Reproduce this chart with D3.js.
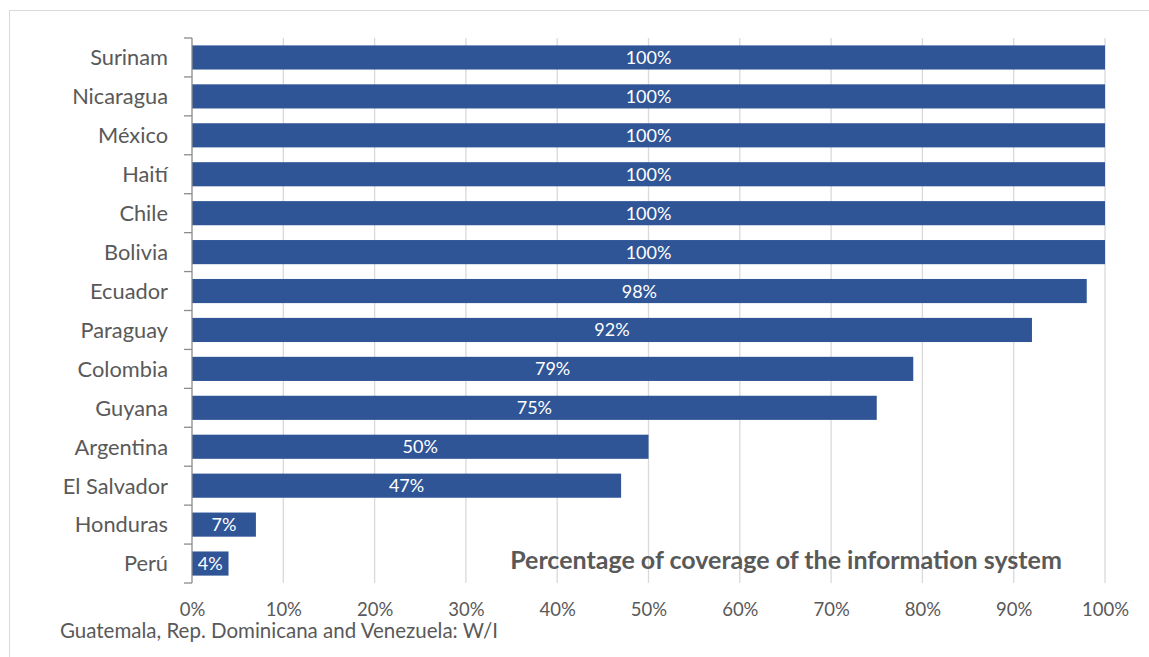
<!DOCTYPE html>
<html><head><meta charset="utf-8">
<script src="https://cdn.jsdelivr.net/npm/d3@7"></script>
<style>
body{margin:0;background:#fff;}
text{font-family:Lato,"Open Sans",sans-serif;}
</style></head><body>
<svg id="chart" width="1149" height="657"></svg>
<script>
const categories = ["Surinam","Nicaragua","México","Haití","Chile","Bolivia","Ecuador","Paraguay","Colombia","Guyana","Argentina","El Salvador","Honduras","Perú"];
const values = [100,100,100,100,100,100,98,92,79,75,50,47,7,4];
const tickValues = [0,10,20,30,40,50,60,70,80,90,100];
const title = "Percentage of coverage of the information system";
const footnote = "Guatemala, Rep. Dominicana and Venezuela: W/I";

const svg = d3.select("#chart");
svg.append("rect").attr("x",9.5).attr("y",10.5).attr("width",1160).attr("height",660)
  .attr("fill","none").attr("stroke","#d9d9d9").attr("stroke-width",1);

const x = d3.scaleLinear().domain([0,100]).range([192,1105]);
const y = d3.scaleBand().domain(categories).range([38,583]).paddingInner(0.38).paddingOuter(0.19);

// gridlines
svg.append("g").selectAll("line").data(tickValues.slice(1)).join("line")
  .attr("x1",d=>x(d)).attr("x2",d=>x(d)).attr("y1",38).attr("y2",583)
  .attr("stroke","#d9d9d9").attr("stroke-width",1.3);

// bars
svg.append("g").selectAll("rect").data(values).join("rect")
  .attr("x",x(0)).attr("y",(d,i)=>y(categories[i]))
  .attr("width",d=>x(d)-x(0)).attr("height",y.bandwidth())
  .attr("fill","#2F5597");

// bar labels
svg.append("g").selectAll("text").data(values).join("text")
  .attr("x",d=>(x(0)+x(d))/2).attr("y",(d,i)=>y(categories[i])+y.bandwidth()/2)
  .attr("dy","0.36em").attr("text-anchor","middle").attr("fill","#fff")
  .attr("font-size",18).text(d=>d+"%");

// category axis
const step = y.step();
const ya = svg.append("g");
ya.append("line").attr("x1",192).attr("x2",192).attr("y1",38).attr("y2",583).attr("stroke","#8c8c8c").attr("stroke-width",1.3);
const bounds = d3.range(categories.length+1).map(i=>38+i*step);
ya.selectAll("line.t").data(bounds).join("line").attr("class","t")
  .attr("x1",184).attr("x2",192).attr("y1",d=>d).attr("y2",d=>d).attr("stroke","#8c8c8c").attr("stroke-width",1.3);
ya.selectAll("text").data(categories).join("text")
  .attr("x",168).attr("y",d=>y(d)+y.bandwidth()/2).attr("dy","0.36em")
  .attr("text-anchor","end").attr("fill","#595959").attr("font-size",21.8).text(d=>d);

// x axis labels
const xa = d3.axisBottom(x).tickValues(tickValues).tickFormat(d=>d+"%").tickSize(0).tickPadding(0);
const gx = svg.append("g").attr("transform","translate(0,603)").call(xa);
gx.select(".domain").remove();
gx.selectAll("text").attr("fill","#595959").attr("font-size",18.5).style("font-family","Lato,sans-serif");

// title
svg.append("text").attr("x",786).attr("y",569).attr("text-anchor","middle")
  .attr("fill","#595959").attr("font-size",25).attr("font-weight","bold").text(title);

// footnote
svg.append("text").attr("x",60).attr("y",638).attr("fill","#595959").attr("font-size",20.5).text(footnote);
</script>
</body></html>
